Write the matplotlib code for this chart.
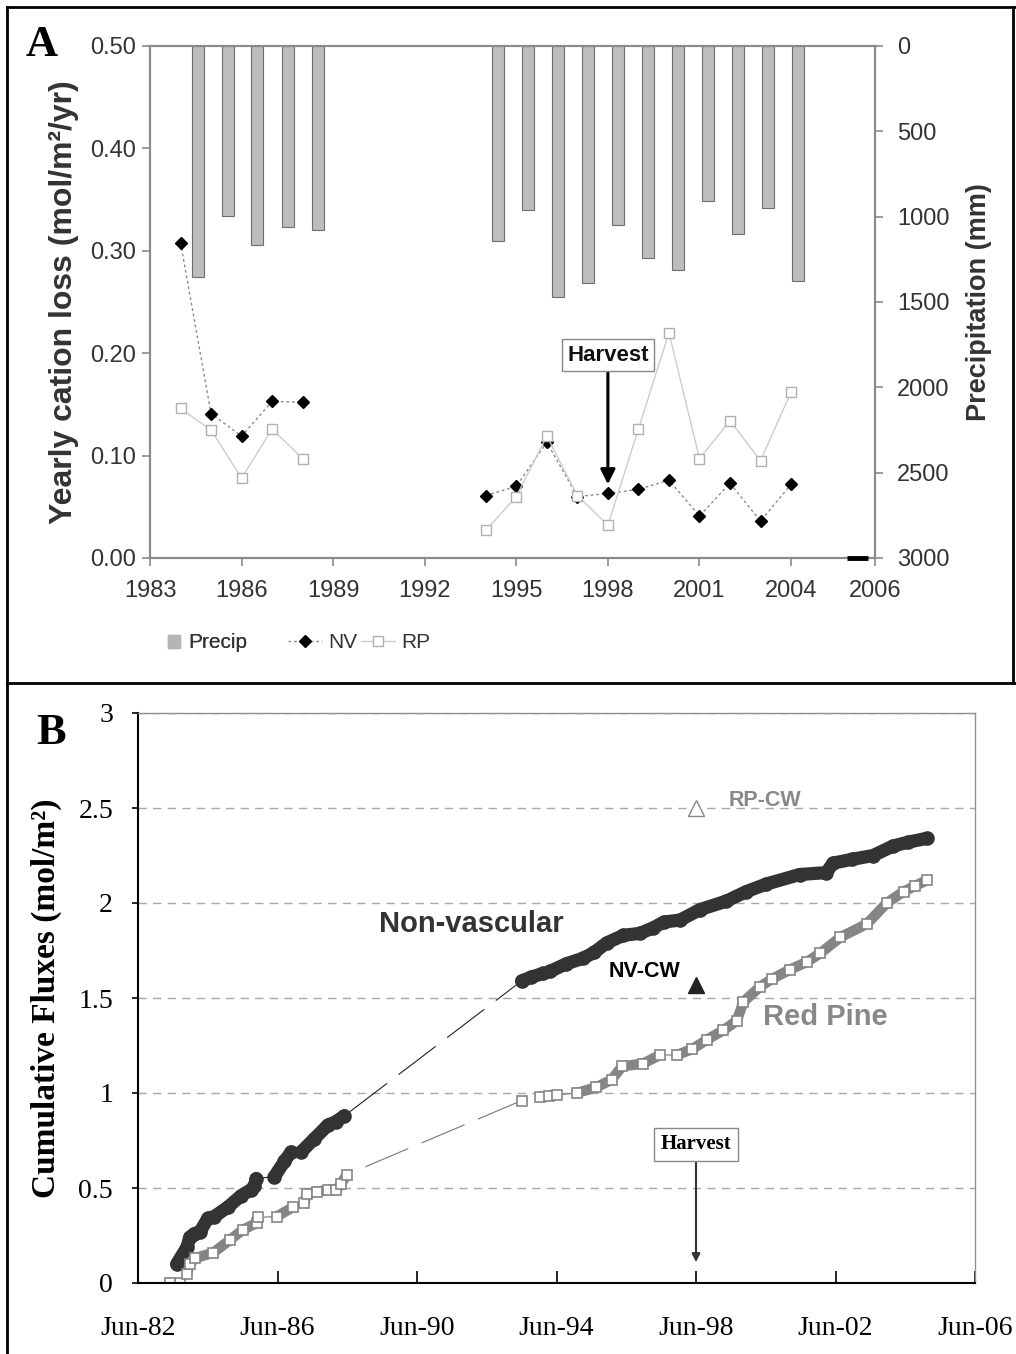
import numpy as np
import pandas as pd
import matplotlib
matplotlib.use('Agg')
import matplotlib.pyplot as plt
from matplotlib.lines import Line2D
import matplotlib.patches as mpatches
from matplotlib import ticker as mtick

plt.rcParams['font.family'] = ['Liberation Sans', 'DejaVu Sans']

### Panel A: yearly cation loss and precipitation
years_a = [1984, 1985, 1986, 1987, 1988, 1994, 1995, 1996, 1997, 1998, 1999, 2000, 2001, 2002, 2003, 2004]
nv_loss = [0.308, 0.141, 0.119, 0.153, 0.152, 0.061, 0.070, 0.113, 0.060, 0.063, 0.067, 0.076, 0.041, 0.073, 0.036, 0.072]
rp_loss = [0.146, 0.125, 0.078, 0.126, 0.097, 0.027, 0.060, 0.119, 0.061, 0.032, 0.126, 0.220, 0.097, 0.134, 0.095, 0.162]
precip_date = [1984.56, 1985.56, 1986.51, 1987.51, 1988.51, 1994.41, 1995.38, 1996.37, 1997.36, 1998.33,
               1999.32, 2000.30, 2001.28, 2002.27, 2003.24, 2004.22]
precip_mm = [1351, 994, 1166, 1058, 1078, 1144, 961, 1469, 1390, 1049, 1244, 1312, 906, 1101, 947, 1375]
xticks_a = [1983, 1986, 1989, 1992, 1995, 1998, 2001, 2004]
harvest_year = 1998

### Panel B: cumulative fluxes
nv_year = [1983.53, 1983.83, 1983.90, 1984.04, 1984.20, 1984.42, 1984.61, 1985.00, 1985.38, 1985.65, 1985.76, 1985.81,
           1986.33, 1986.62, 1986.81,
           1987.10, 1987.48, 1987.86, 1988.10, 1988.34,
           1993.42, 1993.70, 1994.04,
           1994.23, 1994.70, 1995.19, 1995.50, 1995.86, 1996.34, 1996.81, 1997.20, 1997.50, 1997.96, 1998.53,
           1999.29, 1999.86, 2000.44, 2001.39, 2002.16, 2002.35, 2002.90, 2003.50, 2004.07, 2004.50, 2005.03]
nv_flux = [0.10, 0.19, 0.24, 0.26, 0.27, 0.34, 0.35, 0.40, 0.46, 0.49, 0.51, 0.55,
           0.56, 0.64, 0.69,
           0.69, 0.76, 0.83, 0.85, 0.88,
           1.59, 1.61, 1.63,
           1.64, 1.68, 1.71, 1.74, 1.79, 1.83, 1.84, 1.87, 1.90, 1.91, 1.965,
           2.01, 2.06, 2.10, 2.15, 2.16, 2.21, 2.23, 2.25, 2.30, 2.32, 2.34]
nv_breaks = [1986.0, 1987.0, 1990.0, 1994.1]

rp_year = [1983.35, 1983.63, 1983.82, 1983.91, 1984.05, 1984.58, 1985.05, 1985.43, 1985.82, 1985.86,
           1986.40, 1986.87,
           1987.19, 1987.26, 1987.54, 1987.86, 1988.10, 1988.24, 1988.40,
           1993.42, 1993.95, 1994.20, 1994.43,
           1995.00, 1995.56, 1996.00, 1996.30, 1996.90, 1997.39,
           1997.87, 1998.30, 1998.73, 1999.20, 1999.59, 1999.78, 2000.26, 2000.60, 2001.12, 2001.60, 2001.98,
           2002.56, 2003.32, 2003.89, 2004.37, 2004.70, 2005.04]
rp_flux = [0.00, 0.00, 0.05, 0.10, 0.13, 0.16, 0.226, 0.28, 0.316, 0.345,
           0.35, 0.40,
           0.42, 0.47, 0.48, 0.49, 0.49, 0.52, 0.57,
           0.96, 0.98, 0.985, 0.99,
           1.00, 1.03, 1.07, 1.14, 1.155, 1.20,
           1.20, 1.23, 1.28, 1.33, 1.38, 1.48, 1.56, 1.60, 1.65, 1.69, 1.735,
           1.82, 1.89, 2.00, 2.06, 2.09, 2.12]
rp_breaks = [1983.5, 1983.75, 1986.1, 1987.0, 1990.0, 1993.7, 1994.7, 1997.6]

cw_year = 1998.42
nv_cw = 1.57
rp_cw = 2.50
xticks_b = [1982.42, 1986.42, 1990.42, 1994.42, 1998.42, 2002.42, 2006.42]
xlabels_b = ['Jun-82', 'Jun-86', 'Jun-90', 'Jun-94', 'Jun-98', 'Jun-02', 'Jun-06']

W, H = 1016, 1354
fig = plt.figure(figsize=(W/100, H/100), dpi=100)

def fx(px):
	return px/W

def fy(py):
	return 1-py/H

## STEP 1: panel A
ax1 = fig.add_axes([fx(150), fy(558), fx(875-150), (558-46)/H])
ax1b = ax1.twinx()
ax1.set_zorder(ax1b.get_zorder()+1)
ax1.patch.set_visible(False)

ax1b.bar(precip_date, precip_mm, width=0.40, color='#bdbdbd', edgecolor='#6e6e6e', linewidth=0.8)
ax1b.set_ylim(3000, 0)
ax1b.set_yticks(range(0, 3001, 500))

loss = pd.DataFrame({'nv': nv_loss, 'rp': rp_loss}, index=years_a).reindex(range(1984, 2005))
nv_style = dict(color='#8c8c8c', lw=1, ls=(0, (2, 2)), marker='D', ms=6, mfc='black', mec='black')
rp_style = dict(color='#cdcdcd', lw=1, marker='s', ms=7.5, mfc='white', mec='#b0b0b0', mew=1)
ax1.plot(loss.index, loss['nv'], **nv_style)
ax1.plot(loss.index, loss['rp'], **rp_style)
ax1.axhline(0, xmin=0.962, xmax=0.99, color='black', lw=3.5, solid_capstyle='butt', clip_on=False, zorder=5)

ax1.set_xlim(1983, 2006.75)
ax1.set_ylim(0, 0.5)
ax1.set_xticks(xticks_a + [2006.75])
ax1.set_xticklabels([str(y) for y in xticks_a] + ['2006'])
ax1.set_yticks(np.arange(0, 0.51, 0.1))
ax1.yaxis.set_major_formatter(mtick.FormatStrFormatter('%.2f'))

for a in (ax1, ax1b):
	for s in a.spines.values():
		s.set_color('#8a8a8a')
		s.set_linewidth(1.5)
ax1.tick_params(axis='both', direction='out', length=6, width=1.2, color='#8a8a8a',
                labelsize=17, labelcolor='#333333')
ax1.tick_params(axis='x', pad=10)
ax1.tick_params(axis='y', pad=4)
ax1b.tick_params(axis='y', direction='out', length=6, width=1.2, color='#8a8a8a',
                 labelsize=17, labelcolor='#333333', pad=10)

ax1.set_ylabel('Yearly cation loss (mol/m²/yr)', fontsize=23, fontweight='bold', color='#333333', labelpad=8)
ax1b.set_ylabel('Precipitation (mm)', fontsize=19.5, fontweight='bold', color='#333333', labelpad=12)

ax1.annotate('Harvest', xy=(harvest_year, 0.072), xytext=(harvest_year, 0.198),
             ha='center', va='center', fontsize=16, fontweight='bold', color='#111111',
             bbox=dict(boxstyle='square,pad=0.25', fc='white', ec='#888888', lw=1),
             arrowprops=dict(arrowstyle='-|>', color='black', lw=2.2, mutation_scale=22,
                             shrinkA=0, shrinkB=0))

# legend: the Precip key is a small square, the two lines need a longer key
leg1 = fig.legend([mpatches.Patch(color='#b5b5b5')], ['Precip'], loc='center left',
                  bbox_to_anchor=(fx(149), fy(643)), frameon=False, fontsize=15,
                  handlelength=0.6, handleheight=0.6, handletextpad=0.4, labelcolor='#333333')
fig.legend([Line2D([], [], **nv_style), Line2D([], [], **rp_style)], ['NV', 'RP'], loc='center left',
           bbox_to_anchor=(fx(269), fy(643)), ncol=2, frameon=False, fontsize=15,
           handlelength=1.65, handletextpad=0.3, columnspacing=0.15, labelcolor='#333333')
fig.add_artist(leg1)

fig.text(fx(26), fy(45), 'A', family='Liberation Serif', fontweight='bold', fontsize=32, va='center')

## STEP 2: panel B
ax2 = fig.add_axes([fx(138), fy(1283), fx(975-138), (1283-713)/H])
ax2.set_xlim(xticks_b[0], xticks_b[-1])
ax2.set_ylim(0, 3)
ax2.set_yticks(np.arange(0, 3.01, 0.5))
ax2.yaxis.set_major_formatter(mtick.FuncFormatter(lambda v, pos: f'{v:g}'))
ax2.set_xticks(xticks_b)
ax2.set_xticklabels(xlabels_b)
ax2.yaxis.grid(True, ls=(0, (6, 4.5)), color='#a8a8a8', lw=1)
ax2.set_axisbelow(True)

def split_segments(xs, ys, breaks):
	"""Cuts a series into the runs of measured points between the gaps."""
	xs = np.asarray(xs)
	ys = np.asarray(ys)
	ids = np.searchsorted(breaks, xs)
	return [(xs[ids == k], ys[ids == k]) for k in np.unique(ids)]

# thin connecting lines across the gaps
ax2.plot(nv_year, nv_flux, color='#222222', lw=0.8, ls=(0, (42, 13)))
ax2.plot(rp_year, rp_flux, color='#777777', lw=0.8, ls=(0, (42, 13)))

for sx, sy in split_segments(nv_year, nv_flux, nv_breaks):
	ax2.plot(sx, sy, color='#333333', lw=9.5, solid_capstyle='round', solid_joinstyle='round')
ax2.plot(nv_year, nv_flux, 'o', ms=9.5, color='#333333')

for sx, sy in split_segments(rp_year, rp_flux, rp_breaks):
	ax2.plot(sx, sy, color='#858585', lw=7.5, solid_capstyle='butt', solid_joinstyle='round')
ax2.plot(rp_year, rp_flux, 's', ms=7, mfc='white', mec='#858585', mew=1.2)

ax2.plot(cw_year, nv_cw, '^', ms=11, color='#222222')
ax2.plot(cw_year, rp_cw, '^', ms=11, mfc='white', mec='#888888', mew=1)

ax2.text(1997.98, 1.64, 'NV-CW', ha='right', va='center', fontsize=15.5, fontweight='bold', color='black')
ax2.text(1999.35, 2.54, 'RP-CW', ha='left', va='center', fontsize=15.5, fontweight='bold', color='#888888')
ax2.text(1991.97, 1.89, 'Non-vascular', ha='center', va='center', fontsize=21, fontweight='bold', color='#333333')
ax2.text(2002.12, 1.40, 'Red Pine', ha='center', va='center', fontsize=21, fontweight='bold', color='#888888')

ax2.annotate('Harvest', xy=(cw_year, 0.11), xytext=(cw_year, 0.73),
             ha='center', va='center', fontsize=15, fontweight='bold', family='Liberation Serif',
             bbox=dict(boxstyle='square,pad=0.3', fc='white', ec='#888888', lw=1),
             arrowprops=dict(arrowstyle='-|>', color='#333333', lw=1.5, mutation_scale=12,
                             shrinkA=0, shrinkB=0))

ax2.spines['left'].set_color('black')
ax2.spines['bottom'].set_color('black')
ax2.spines['left'].set_linewidth(1.5)
ax2.spines['bottom'].set_linewidth(1.5)
for side in ('top', 'right'):
	ax2.spines[side].set_color('#909090')
	ax2.spines[side].set_linewidth(1)
ax2.tick_params(axis='x', direction='in', length=9, width=1.2, pad=24, labelsize=20)
ax2.tick_params(axis='y', direction='out', length=4, width=1.2, pad=14, labelsize=20)
for lab in ax2.get_xticklabels() + ax2.get_yticklabels():
	lab.set_family('Liberation Serif')
ax2.set_ylabel('Cumulative Fluxes (mol/m²)', family='Liberation Serif', fontweight='bold',
               fontsize=24, labelpad=12)

fig.text(fx(36), fy(733), 'B', family='Liberation Serif', fontweight='bold', fontsize=32, va='center')

## STEP 3: outer frame
frame = dict(color='black', lw=2, transform=fig.transFigure)
fig.add_artist(Line2D([fx(7), 1], [fy(7), fy(7)], **frame))
fig.add_artist(Line2D([fx(7), fx(7)], [fy(7), 0], **frame))
fig.add_artist(Line2D([fx(7), 1], [fy(683), fy(683)], **frame))
fig.add_artist(Line2D([fx(1013), fx(1013)], [fy(7), fy(683)], **frame))

fig.savefig('out.png', dpi=100, facecolor='white')
